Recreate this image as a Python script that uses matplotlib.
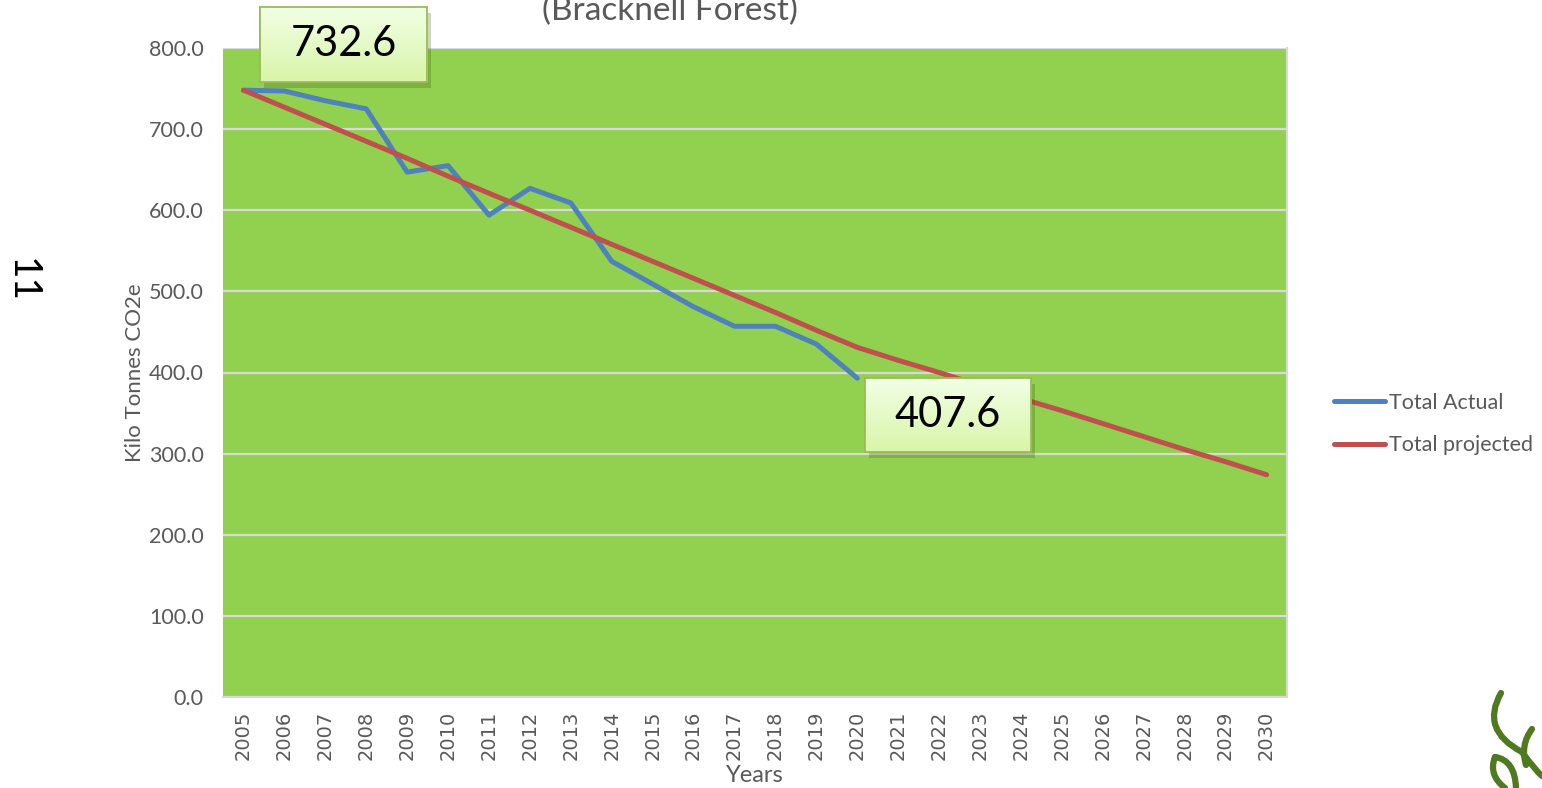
import matplotlib
matplotlib.use("Agg")
import numpy as np
import matplotlib.pyplot as plt
import matplotlib.patheffects as pe
from matplotlib.path import Path
from matplotlib.patches import PathPatch, Rectangle

years = [str(y) for y in range(2005, 2031)]
actual = [748, 747, 735, 725, 647, 655, 594, 627, 609, 537, 509, 481, 457, 457, 435, 393]
projected = [748, 727, 706, 685, 664, 642, 621, 600, 579, 558, 537, 516, 495, 474, 452, 431,
             415, 400, 384, 368, 353, 337, 321, 305, 290, 274]
yticks = [0, 100, 200, 300, 400, 500, 600, 700, 800]
label_first = "732.6"
label_last = "407.6"

plt.rcParams['font.family'] = ['Lato', 'DejaVu Sans']
GRAY = '#595959'

fig = plt.figure(figsize=(15.42, 7.88), dpi=100)
ax = fig.add_axes([223/1542, 1-697/788, (1287-223)/1542, (697-48)/788])
ax.set_facecolor('#92D050')

x_act = list(range(len(actual)))
x_proj = list(range(len(projected)))
ax.plot(x_act, actual, color='#4F81BD', lw=3.6, solid_capstyle='round', label='Total Actual', zorder=3)
ax.plot(x_proj, projected, color='#C0504D', lw=3.6, solid_capstyle='round', label='Total projected', zorder=3)

ax.set_xlim(-0.5, len(years) - 0.5)
ax.set_ylim(0, 800)
ax.set_xticks(range(len(years)))
ax.set_xticklabels(years, rotation=90, fontsize=14, color=GRAY, family='DejaVu Sans')
ax.set_yticks(yticks)
ax.set_yticklabels([f"{v:.1f}" for v in yticks], fontsize=15.5, color=GRAY)
ax.tick_params(axis='y', length=0, pad=14)
ax.tick_params(axis='x', length=0, pad=10)
ax.grid(axis='y', color='#D9D9D9', lw=1.6, zorder=1)
ax.set_axisbelow(True)
for s in ['top', 'left']:
    ax.spines[s].set_visible(False)
for s in ['bottom', 'right']:
    ax.spines[s].set_color('#D9D9D9')
    ax.spines[s].set_linewidth(1.5)

ax.set_ylabel('Kilo Tonnes CO2e', fontsize=16, color=GRAY, labelpad=3)
fig.text(755/1542, 1-776/788, 'Years', fontsize=17, color=GRAY, ha='center', va='center')

fig.text(670/1542, 1-11/788, '(Bracknell Forest)', fontsize=24, color=GRAY, ha='center', va='center')

# value call-out boxes (axes-fraction layout)
grad = np.linspace(0, 1, 64).reshape(-1, 1)
top_c = np.array([0.95, 1.0, 0.90])
bot_c = np.array([0.85, 0.96, 0.66])
grad_img = (top_c * (1 - grad) + bot_c * grad)[:, None, :].repeat(2, axis=1)
for txt, (x0, y0, w, h) in [(label_first, (0.0348, 0.9476, 0.157, 0.1156)),
                            (label_last, (0.6034, 0.3775, 0.156, 0.114))]:
    rect = Rectangle((x0, y0), w, h, transform=ax.transAxes, facecolor='#E6F8C8',
                     edgecolor='#9BBB59', lw=1.3, zorder=5, clip_on=False)
    rect.set_path_effects([pe.SimplePatchShadow(offset=(3, -4), alpha=0.25, shadow_rgbFace='#3a5a10'),
                           pe.Normal()])
    ax.add_patch(rect)
    im = ax.imshow(grad_img, extent=(x0, x0 + w, y0, y0 + h), transform=ax.transAxes,
                   aspect='auto', zorder=5.5, interpolation='bilinear', origin='upper')
    im.set_clip_on(False)
    ax.add_patch(Rectangle((x0, y0), w, h, transform=ax.transAxes, facecolor='none',
                           edgecolor='#9BBB59', lw=1.3, zorder=5.8, clip_on=False))
    ax.text(x0 + w/2, y0 + h/2, txt, transform=ax.transAxes, ha='center', va='center',
            fontsize=30, color='black', zorder=6, clip_on=False)
ax.set_xlim(-0.5, len(years) - 0.5)
ax.set_ylim(0, 800)
ax.set_aspect('auto')

leg = fig.legend(loc='center left', bbox_to_anchor=((1332-7)/1542, 1-424/788), frameon=False,
                 fontsize=15.5, handlelength=2.4, handletextpad=0.15, labelspacing=1.05,
                 borderpad=0.4, borderaxespad=0)
for t in leg.get_texts():
    t.set_color(GRAY)

fig.text(22/1542, 1-280/788, '11', fontsize=28, rotation=-90, ha='center', va='center', color='black')

# decorative logo (bottom right)
def fpath(pts):
    verts = [(x/1542, 1-y/788) for x, y in pts]
    codes = [Path.MOVETO] + [Path.CURVE3] * (len(pts) - 1)
    return Path(verts, codes)
green = '#4F7A1F'
for pts in [[(1501, 693), (1480, 730), (1522, 752)],
            [(1522, 752), (1535, 770), (1542, 776)],
            [(1532, 729), (1520, 745), (1526, 765)],
            [(1495, 757), (1488, 775), (1505, 788)],
            [(1495, 757), (1515, 760), (1516, 788)]]:
    fig.patches.append(PathPatch(fpath(pts), transform=fig.transFigure, fill=False,
                                 edgecolor=green, lw=4.5, capstyle='round'))

fig.savefig('out.png', dpi=100)
